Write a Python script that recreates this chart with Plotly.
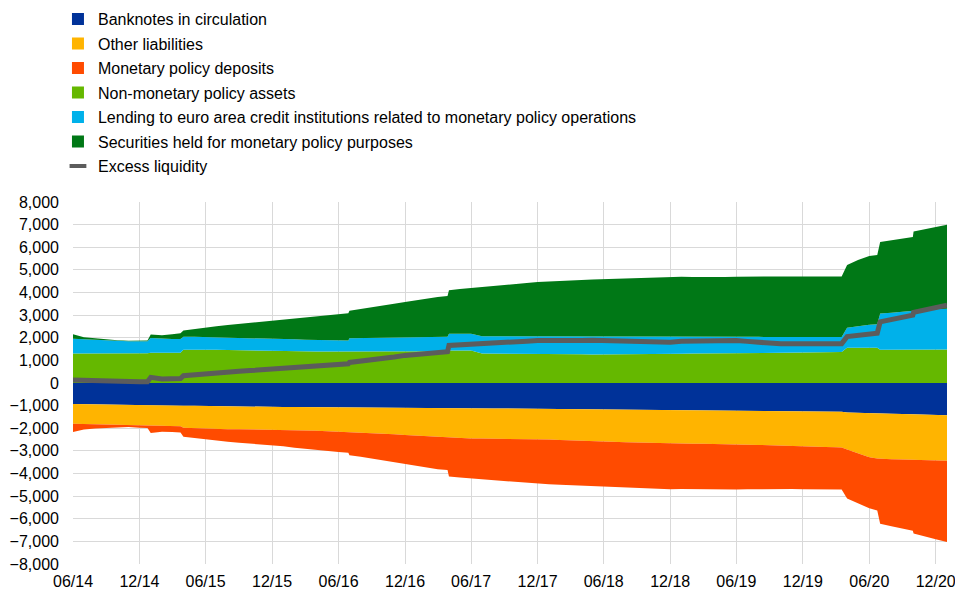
import plotly.graph_objects as go

dates = [
    "2014-06-01", "2014-07-01", "2014-08-01", "2014-09-01", "2014-10-01", "2014-11-01", "2014-12-01", "2014-12-23",
    "2015-01-01", "2015-02-01", "2015-03-01", "2015-03-24", "2015-04-01", "2015-05-01", "2015-06-01", "2015-07-01",
    "2015-08-01", "2015-09-01", "2015-10-01", "2015-11-01", "2015-12-01", "2016-01-01", "2016-02-01", "2016-03-01",
    "2016-04-01", "2016-05-01", "2016-06-01", "2016-06-28", "2016-07-01", "2016-08-01", "2016-09-01", "2016-10-01",
    "2016-11-01", "2016-12-01", "2017-01-01", "2017-02-01", "2017-03-01", "2017-03-28", "2017-04-01", "2017-05-01",
    "2017-06-01", "2017-07-01", "2017-08-01", "2017-09-01", "2017-10-01", "2017-11-01", "2017-12-01", "2018-01-01",
    "2018-02-01", "2018-03-01", "2018-04-01", "2018-05-01", "2018-06-01", "2018-07-01", "2018-08-01", "2018-09-01",
    "2018-10-01", "2018-11-01", "2018-12-01", "2019-01-01", "2019-02-01", "2019-03-01", "2019-04-01", "2019-05-01",
    "2019-06-01", "2019-07-01", "2019-08-01", "2019-09-01", "2019-10-01", "2019-11-01", "2019-12-01", "2020-01-01",
    "2020-02-01", "2020-03-01", "2020-03-17", "2020-04-01", "2020-05-01", "2020-06-01", "2020-06-23", "2020-07-01",
    "2020-08-01", "2020-09-01", "2020-09-29", "2020-10-01", "2020-11-01", "2020-12-01", "2021-01-01",
]

# EUR billions (liabilities are shown below zero)
banknotes = [
    930, 940, 950, 955, 960, 965, 975, 990, 990, 990, 995, 1000, 1005, 1010, 1020, 1030,
    1035, 1040, 1045, 1050, 1060, 1060, 1060, 1065, 1070, 1075, 1080, 1085, 1090, 1095, 1095, 1100,
    1105, 1110, 1115, 1110, 1110, 1115, 1120, 1120, 1125, 1130, 1130, 1130, 1135, 1140, 1150, 1150,
    1150, 1155, 1160, 1165, 1170, 1175, 1180, 1180, 1185, 1190, 1200, 1200, 1200, 1205, 1210, 1215,
    1220, 1225, 1230, 1230, 1235, 1240, 1250, 1250, 1255, 1265, 1275, 1300, 1320, 1335, 1340, 1345,
    1355, 1365, 1370, 1370, 1385, 1405, 1420,
]
other_liabilities = [
    870, 870, 870, 875, 880, 885, 885, 880, 900, 900, 905, 910, 975, 990, 1000, 1000,
    1005, 1005, 1005, 1005, 1000, 1010, 1020, 1025, 1040, 1055, 1070, 1075, 1080, 1095, 1115, 1140,
    1165, 1190, 1215, 1250, 1270, 1275, 1290, 1310, 1325, 1325, 1330, 1330, 1330, 1330, 1330, 1350,
    1370, 1385, 1400, 1415, 1430, 1435, 1440, 1450, 1460, 1465, 1470, 1480, 1480, 1480, 1480, 1480,
    1480, 1490, 1505, 1525, 1540, 1555, 1560, 1570, 1575, 1575, 1575, 1640, 1790, 1945, 2000, 2005,
    2015, 2015, 2020, 2020, 2015, 2015, 2020,
]
mp_deposits = [
    370, 240, 190, 150, 120, 100, 120, 120, 320, 260, 270, 280, 400, 440, 480, 520,
    560, 595, 630, 655, 680, 730, 780, 820, 850, 880, 900, 920, 1020, 1070, 1130, 1180,
    1240, 1290, 1340, 1390, 1430, 1450, 1720, 1750, 1770, 1805, 1840, 1880, 1915, 1950, 1970, 1980,
    1980, 1980, 1980, 1980, 1980, 1990, 2000, 2010, 2015, 2025, 2030, 2010, 2020, 2025, 2010, 2005,
    2010, 1985, 1955, 1945, 1925, 1895, 1890, 1880, 1860, 1860, 1860, 2160, 2210, 2260, 2290, 2870,
    2960, 3070, 3140, 3260, 3390, 3490, 3590,
]
non_mp_assets = [
    1300, 1300, 1300, 1305, 1310, 1310, 1320, 1320, 1340, 1340, 1340, 1340, 1470, 1480, 1480, 1470,
    1460, 1450, 1440, 1420, 1400, 1400, 1390, 1390, 1390, 1390, 1390, 1390, 1400, 1400, 1400, 1390,
    1390, 1390, 1390, 1390, 1395, 1400, 1440, 1440, 1435, 1300, 1300, 1300, 1295, 1290, 1290, 1285,
    1280, 1275, 1270, 1265, 1265, 1270, 1275, 1280, 1285, 1290, 1290, 1295, 1300, 1305, 1310, 1315,
    1320, 1325, 1330, 1340, 1350, 1355, 1360, 1360, 1365, 1365, 1365, 1560, 1560, 1555, 1555, 1470,
    1470, 1470, 1470, 1470, 1470, 1475, 1480,
]
lending = [
    660, 630, 600, 565, 540, 530, 520, 520, 650, 620, 610, 610, 570, 560, 550, 550,
    550, 550, 550, 550, 550, 540, 540, 520, 510, 500, 490, 490, 580, 590, 600, 620,
    630, 640, 640, 640, 640, 640, 740, 740, 745, 770, 770, 770, 775, 780, 780, 775,
    780, 780, 785, 790, 790, 780, 775, 770, 765, 760, 760, 755, 750, 745, 735, 730,
    725, 715, 710, 695, 680, 675, 670, 670, 665, 665, 665, 880, 960, 1015, 1045, 1600,
    1640, 1680, 1720, 1750, 1770, 1785, 1800,
]
securities = [
    190, 90, 80, 60, 40, 30, 40, 40, 150, 150, 210, 250, 280, 350, 420, 490,
    550, 610, 670, 730, 790, 850, 910, 970, 1040, 1110, 1170, 1200, 1210, 1270, 1340, 1410,
    1480, 1550, 1630, 1710, 1765, 1800, 1920, 1970, 2020, 2180, 2230, 2270, 2310, 2350, 2390, 2430,
    2450, 2475, 2495, 2515, 2535, 2560, 2580, 2600, 2620, 2630, 2650, 2650, 2640, 2650, 2655, 2645,
    2655, 2660, 2650, 2665, 2670, 2660, 2670, 2670, 2660, 2670, 2680, 2780, 2920, 3040, 3060, 3160,
    3200, 3240, 3260, 3480, 3550, 3630, 3710,
]
excess_liquidity = [
    130, 110, 100, 90, 80, 70, 60, 60, 250, 180, 170, 200, 320, 370, 410, 450,
    490, 520, 550, 580, 600, 640, 680, 720, 760, 800, 830, 850, 910, 960, 1020, 1080,
    1150, 1220, 1270, 1320, 1360, 1380, 1660, 1680, 1700, 1720, 1740, 1770, 1810, 1850, 1880, 1870,
    1860, 1870, 1880, 1890, 1880, 1880, 1870, 1880, 1870, 1850, 1800, 1850, 1860, 1870, 1860, 1870,
    1880, 1840, 1790, 1750, 1730, 1740, 1750, 1730, 1730, 1740, 1740, 2050, 2100, 2160, 2200, 2700,
    2800, 2920, 3000, 3120, 3220, 3320, 3440,
]

y_ticks = [-8000, -7000, -6000, -5000, -4000, -3000, -2000, -1000, 0, 1000, 2000, 3000, 4000, 5000, 6000, 7000, 8000]

C_BANK = "#003299"
C_OTHER = "#FFB400"
C_DEP = "#FF4B00"
C_NMPA = "#65B800"
C_LEND = "#00B1EA"
C_SEC = "#007816"
C_EL = "#5C5C5C"

FONT = "Arial, Liberation Sans, sans-serif"

fig = go.Figure()

liab = [("Banknotes in circulation", banknotes, C_BANK),
        ("Other liabilities", other_liabilities, C_OTHER),
        ("Monetary policy deposits", mp_deposits, C_DEP)]
assets = [("Non-monetary policy assets", non_mp_assets, C_NMPA),
          ("Lending to euro area credit institutions related to monetary policy operations", lending, C_LEND),
          ("Securities held for monetary policy purposes", securities, C_SEC)]

for name, vals, col in liab:
    fig.add_trace(go.Scatter(x=dates, y=[-v for v in vals], mode="lines", stackgroup="liab",
                             line=dict(width=0, color=col), fillcolor=col, name=name,
                             showlegend=False, hoverinfo="skip"))
for name, vals, col in assets:
    fig.add_trace(go.Scatter(x=dates, y=vals, mode="lines", stackgroup="assets",
                             line=dict(width=0, color=col), fillcolor=col, name=name,
                             showlegend=False, hoverinfo="skip"))

fig.add_trace(go.Scatter(x=dates, y=excess_liquidity, mode="lines", name="Excess liquidity",
                         line=dict(color=C_EL, width=5), showlegend=False))

# legend entries (square swatches, short line for excess liquidity)
for i, (name, vals, col) in enumerate(liab + assets):
    fig.add_trace(go.Bar(x=[None], y=[None], name=name, legendgroup=f"g{i}",
                         marker=dict(color=col, line=dict(width=0))))
fig.add_trace(go.Scatter(x=[None], y=[None], mode="markers", name="Excess liquidity", legendgroup="g6",
                         marker=dict(symbol="line-ew", size=12, line=dict(color=C_EL, width=4))))

fig.update_layout(
    width=955, height=589,
    margin=dict(l=73, r=8, t=202, b=25, autoexpand=False),
    paper_bgcolor="white", plot_bgcolor="white",
    font=dict(family=FONT, size=16, color="#000000"),
    showlegend=True,
    legend=dict(x=-0.0172, y=1.552, xanchor="left", yanchor="top", orientation="v",
                font=dict(family=FONT, size=16, color="#000000"),
                bgcolor="rgba(0,0,0,0)", tracegroupgap=0.7, traceorder="grouped"),
    xaxis=dict(type="date", range=["2014-06-01", "2021-01-01"], tick0="2014-06-01", dtick="M6",
               tickformat="%m/%y", showgrid=True, gridcolor="#d9d9d9", gridwidth=1,
               showline=False, zeroline=False, ticks="", tickfont=dict(size=16),
               ticklabeloverflow="allow", ticklabelstandoff=6),
    yaxis=dict(range=[-8000, 8000], tickvals=y_ticks, tickformat=",d", showgrid=True,
               gridcolor="#d9d9d9", gridwidth=1, zeroline=True, zerolinecolor="#d9d9d9",
               zerolinewidth=1, showline=False, ticks="", tickfont=dict(size=16),
               ticklabelstandoff=13, layer="above traces"),
)

# remove the browser's default page margin so the 955x589 figure fills the window exactly
fig.write_html("out.html", config={"displayModeBar": False},
               post_script="document.body.style.margin='0';document.body.style.overflow='hidden';")
